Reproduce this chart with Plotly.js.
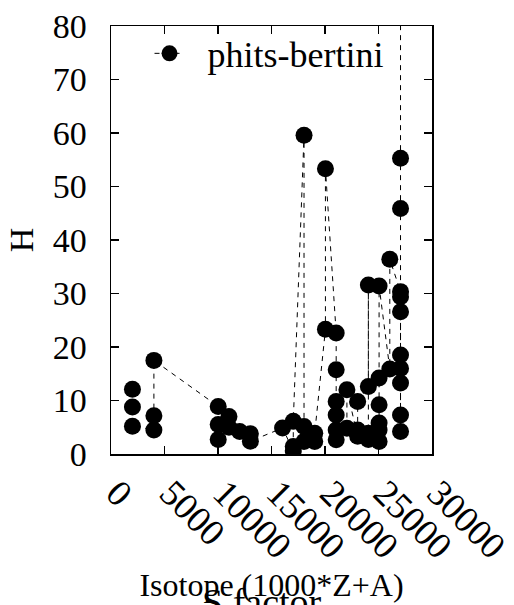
<!DOCTYPE html>
<html>
<head>
<meta charset="utf-8">
<script src="https://cdn.plot.ly/plotly-3.0.1.min.js"></script>
<style>html,body{margin:0;padding:0;background:#fff;}#chart{width:514px;height:605px;}</style>
</head>
<body>
<div id="chart"></div>
<script>
// Isotope codes (1000*Z+A), in data-file order
const isotope = [
  2004, 2004, 2004,
  4009, 4009, 4009,
  10020, 10020, 10020,
  11023, 11023,
  12024,
  13027, 13027,
  16032,
  17035, 17035, 17035,
  18040, 18040, 18040,
  19039, 19039,
  20040, 20040,
  21045, 21045, 21045, 21045, 21045, 21045,
  22048, 22048,
  23051, 23051, 23051,
  24052, 24052, 24052, 24052,
  25055, 25055, 25055, 25055, 25055, 25055,
  26056, 26056,
  27059, 27059, 27059, 27059, 27059, 27059, 27059, 27059, 27059, 27059, 27059
];
// H values for series "phits-bertini"
const hValues = [
  12.1, 8.8, 5.2,
  4.5, 7.15, 17.5,
  8.9, 5.5, 2.7,
  7.0, 5.0,
  4.2,
  3.8, 2.4,
  4.85,
  0.6, 1.4, 6.1,
  59.6, 5.15, 2.35,
  2.35, 3.9,
  23.3, 53.3,
  22.6, 15.75, 9.8, 7.3, 4.5, 2.67,
  4.8, 12.0,
  3.3, 4.5, 9.8,
  12.6, 31.6, 3.9, 2.7,
  2.35, 4.5, 5.8, 9.2, 14.2, 31.4,
  15.9, 36.4,
  30.35, 29.4, 26.6, 18.5, 16.0, 13.25, 7.3, 4.2, 45.9, 55.3, 95
];
const seriesName = "phits-bertini";
const xTickVals = [0, 5000, 10000, 15000, 20000, 25000, 30000];
const xTickText = ["0", "5000", "10000", "15000", "20000", "25000", "30000"];
const yTickVals = [0, 10, 20, 30, 40, 50, 60, 70, 80];
const yTickText = ["0", "10", "20", "30", "40", "50", "60", "70", "80"];

const FONT = "Liberation Serif, Times New Roman, serif";

const trace = {
  x: isotope,
  y: hValues,
  name: "\u00a0\u00a0" + seriesName,
  type: "scatter",
  mode: "lines+markers",
  line: {color: "#000", width: 1, dash: "5px,5px"},
  marker: {color: "#000", size: 17, symbol: "circle"},
  cliponaxis: true
};

const axisCommon = {
  showline: true, linecolor: "#000", linewidth: 1.5, mirror: "ticks",
  ticks: "inside", ticklen: 8, tickwidth: 1.5, tickcolor: "#000",
  showgrid: false, zeroline: false,
  tickfont: {family: FONT, size: 34, color: "#000"}
};

const layout = {
  width: 514, height: 605,
  margin: {l: 111, r: 82, t: 26, b: 151},
  paper_bgcolor: "#fff", plot_bgcolor: "#fff",
  showlegend: true,
  legend: {x: 0.12, y: 1.006, xanchor: "left", yanchor: "top",
           bgcolor: "rgba(0,0,0,0)", borderwidth: 0,
           font: {family: FONT, size: 36, color: "#000"}},
  xaxis: Object.assign({}, axisCommon, {
    range: [0, 30000], tickmode: "array", tickvals: xTickVals, ticktext: xTickText,
    tickangle: 45, ticklabelshift: 6, ticklabelstandoff: 1,
    tickfont: {family: FONT, size: 37, color: "#000"},
    title: {text: "Isotope (1000*Z+A)", font: {family: FONT, size: 32, color: "#000"}, standoff: 8}
  }),
  yaxis: Object.assign({}, axisCommon, {
    range: [0, 80], tickmode: "array", tickvals: yTickVals, ticktext: yTickText,
    ticklabelstandoff: 16,
    title: {text: "H", font: {family: FONT, size: 34, color: "#000"}, standoff: 9}
  }),
  annotations: [{
    text: "S factor", xref: "paper", yref: "paper", x: 0.47, y: -0.293,
    xanchor: "center", yanchor: "top", showarrow: false,
    font: {family: FONT, size: 38, color: "#000"}
  }]
};

Plotly.newPlot("chart", [trace], layout, {displayModeBar: false, staticPlot: true});
</script>
</body>
</html>
